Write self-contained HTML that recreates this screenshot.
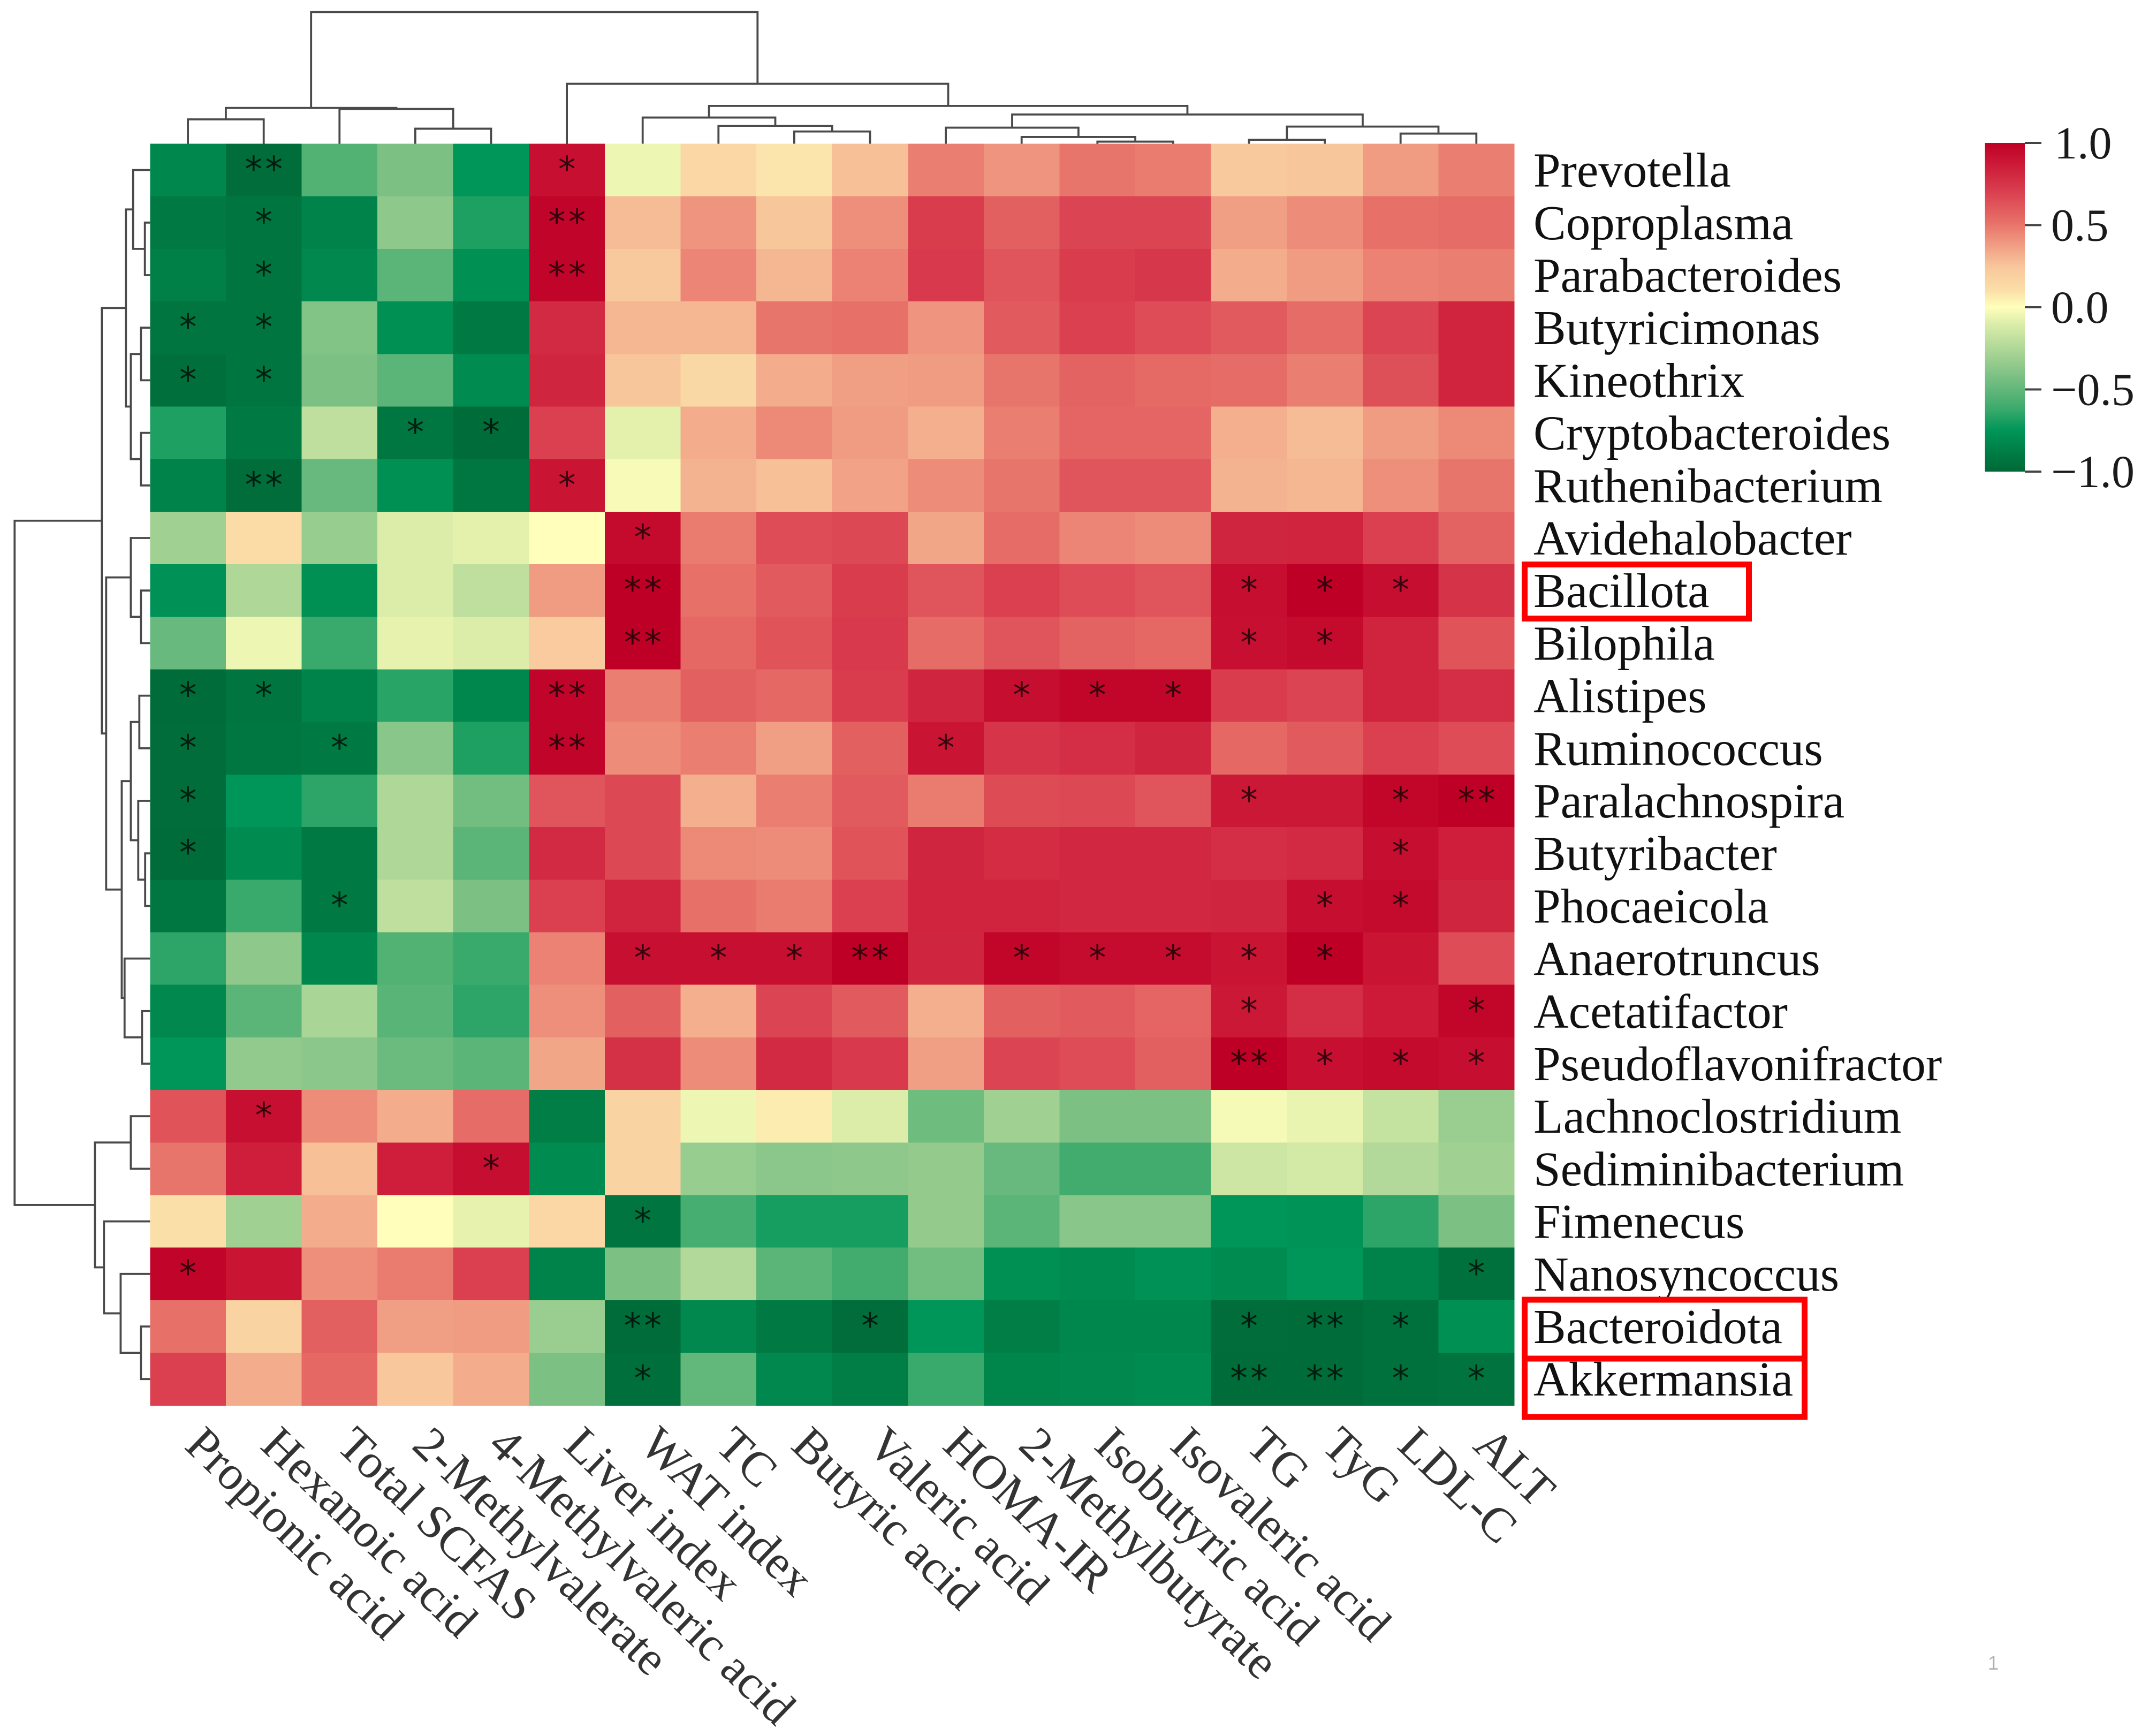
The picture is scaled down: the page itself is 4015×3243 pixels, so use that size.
<!DOCTYPE html>
<html lang="en">
<head>
<meta charset="utf-8">
<title>Genus-metabolite correlation heatmap</title>
<style>
html,body{margin:0;padding:0;background:#fff;}
svg{display:block;}
</style>
</head>
<body>
<svg id="chart" xmlns="http://www.w3.org/2000/svg" width="4015" height="3243" viewBox="0 0 4015 3243">
  <defs>
    <linearGradient id="cbar-grad" x1="0" y1="0" x2="0" y2="1"></linearGradient>
  </defs>
  <rect x="0" y="0" width="4015" height="3243" fill="#ffffff"></rect>
</svg>
<script>
const rowLabels = ["Prevotella","Coproplasma","Parabacteroides","Butyricimonas","Kineothrix","Cryptobacteroides","Ruthenibacterium","Avidehalobacter","Bacillota","Bilophila","Alistipes","Ruminococcus","Paralachnospira","Butyribacter","Phocaeicola","Anaerotruncus","Acetatifactor","Pseudoflavonifractor","Lachnoclostridium","Sediminibacterium","Fimenecus","Nanosyncoccus","Bacteroidota","Akkermansia"];
const colLabels = ["Propionic acid","Hexanoic acid","Total SCFAS","2-Methylvalerate","4-Methylvaleric acid","Liver index","WAT index","TC","Butyric acid","Valeric acid","HOMA-IR","2-Methylbutyrate","Isobutyric acid","Isovaleric acid","TG","TyG","LDL-C","ALT"];
const correlations = [
[-.83,-.97,-.55,-.42,-.75,.92,-.05,.15,.08,.27,.47,.4,.5,.48,.23,.25,.38,.47],
[-.9,-.93,-.85,-.36,-.68,.98,.28,.4,.25,.42,.72,.58,.68,.68,.37,.43,.52,.53],
[-.87,-.93,-.82,-.52,-.78,.98,.23,.45,.3,.46,.73,.62,.72,.74,.33,.38,.46,.47],
[-.93,-.93,-.4,-.78,-.9,.8,.3,.3,.5,.52,.4,.6,.7,.65,.6,.53,.68,.83],
[-.96,-.93,-.42,-.52,-.8,.82,.25,.14,.33,.37,.38,.5,.57,.54,.53,.47,.64,.83],
[-.68,-.9,-.2,-.92,-.98,.7,-.08,.33,.44,.38,.32,.47,.56,.56,.32,.28,.38,.44],
[-.85,-.97,-.48,-.78,-.92,.9,-.02,.31,.27,.36,.43,.5,.62,.62,.31,.3,.42,.5],
[-.3,.12,-.33,-.1,-.08,0,.95,.48,.65,.67,.35,.53,.45,.43,.82,.83,.7,.57],
[-.77,-.25,-.78,-.1,-.2,.38,1,.52,.6,.72,.62,.7,.65,.62,.93,1,.93,.76],
[-.48,-.05,-.62,-.07,-.1,.22,1,.55,.63,.73,.53,.62,.57,.55,.92,.95,.83,.63],
[-.98,-.93,-.85,-.66,-.83,.98,.47,.58,.55,.72,.82,.93,.97,.97,.72,.68,.83,.78],
[-.97,-.92,-.9,-.38,-.68,.98,.43,.47,.37,.58,.9,.75,.78,.82,.55,.6,.7,.65],
[-.97,-.75,-.65,-.25,-.45,.62,.67,.32,.47,.6,.48,.66,.67,.62,.88,.88,.97,1],
[-.98,-.8,-.9,-.25,-.52,.8,.67,.44,.43,.63,.82,.79,.81,.81,.78,.8,.93,.85],
[-.92,-.62,-.9,-.2,-.42,.7,.83,.52,.48,.7,.83,.83,.81,.81,.82,.93,.95,.82],
[-.65,-.36,-.83,-.55,-.62,.46,.92,.92,.92,1,.82,.97,.94,.94,.9,1,.9,.65],
[-.82,-.52,-.27,-.53,-.65,.42,.58,.32,.68,.6,.32,.58,.6,.56,.88,.78,.87,.97],
[-.75,-.35,-.37,-.47,-.52,.35,.77,.43,.8,.73,.37,.68,.65,.58,1,.92,.95,.93],
[.63,.92,.43,.33,.53,-.88,.17,-.05,.06,-.1,-.46,-.3,-.42,-.42,-.03,-.06,-.18,-.32],
[.5,.85,.27,.85,.93,-.8,.17,-.33,-.37,-.36,-.34,-.48,-.6,-.6,-.15,-.13,-.24,-.3],
[.1,-.3,.33,0,-.07,.15,-.93,-.58,-.7,-.7,-.34,-.52,-.38,-.38,-.75,-.76,-.65,-.42],
[.98,.9,.42,.48,.7,-.85,-.42,-.24,-.52,-.6,-.45,-.78,-.8,-.77,-.8,-.75,-.85,-.95],
[.52,.17,.58,.37,.38,-.32,-.98,-.82,-.9,-.97,-.75,-.88,-.83,-.83,-.97,-.98,-.95,-.78],
[.7,.33,.55,.24,.33,-.42,-.96,-.5,-.82,-.88,-.62,-.84,-.82,-.8,-.98,-.98,-.95,-.94]
];
const significance = [
".2...1............",
".1...2............",
".1...2............",
"11................",
"11................",
"...11.............",
".2...1............",
"......1...........",
"......2.......111.",
"......2.......11..",
"11...2.....111....",
"1.1..2....1.......",
"1.............1.12",
"1...............1.",
"..1............11.",
"......1112.11111..",
"..............1..1",
"..............2111",
".1................",
"....1.............",
"......1...........",
"1................1",
"......2..1....121.",
"......1.......2211"
];
const colTree = [[[0,1,18.5],[2,[3,4,11.4],26.4],27.2],[5,[[6,[7,[8,9,9.3],13.6],19.9],[[10,[11,[12,13,1.6],5.1],12.2],[[14,15,3],[16,17,7.7],13],22.2],28.7],45.5],100];
const rowTree = [[[[0,[1,2,3.8],12.5],[[3,4,6.7],[5,6,6.7],14.2],17.8],[[7,[8,9,6.7],14.2],[[[10,11,7.9],[12,[13,14,3.6],8.7],14.2],[15,[16,17,5.9],18.8],20.9],32.4],35.6],[[18,19,14.2],[20,[21,[22,23,6.7],21.7],34],40.7],100];
const colorbarTicks = [1,0.5,0,-0.5,-1];
const colorbarTickLabels = ["1.0","0.5","0.0","\u22120.5","\u22121.0"];
const highlightedRows = ["Bacillota","Bacteroidota","Akkermansia"];
const colorValues = [-1,-.9,-.75,-.62,-.42,-.25,-.1,0,.1,.25,.42,.5,.7,.87,1];
const colorHexes = ["#006837","#007a42","#009559","#3aaa6c","#7cc084","#afd898","#dcedaa","#ffffbb","#fbdfa8","#f8c69b","#ee8f7b","#e8756b","#da4050","#cc1a38","#bf0026"];

const NS = "http://www.w3.org/2000/svg";
const svg = document.getElementById("chart");
const plot = {left: 280.3, top: 268.5, cellW: 141.6, cellH: 98.2};
const bar = {left: 3708.5, right: 3783, top: 267, bottom: 881};

function xBand(i){ return plot.left + i * plot.cellW; }
function yBand(j){ return plot.top + j * plot.cellH; }
function xCenter(i){ return xBand(i) + plot.cellW / 2; }
function yCenter(j){ return yBand(j) + plot.cellH / 2; }
function colHeight(h){ return plot.top - h * 2.46; }
function rowHeight(h){ return plot.left - h * 2.53; }
function barY(v){ return bar.bottom - (v + 1) / 2 * (bar.bottom - bar.top); }

function hexRgb(h){ return [1,3,5].map(k => parseInt(h.slice(k,k+2),16)); }
function colorScale(v){
  const c = Math.max(-1, Math.min(1, v));
  let k = 0;
  while (k < colorValues.length - 2 && c > colorValues[k+1]) k++;
  const t = (c - colorValues[k]) / (colorValues[k+1] - colorValues[k]);
  const a = hexRgb(colorHexes[k]), b = hexRgb(colorHexes[k+1]);
  const m = a.map((x, n) => Math.round(x + (b[n] - x) * t));
  return "rgb(" + m.join(",") + ")";
}
function make(tag, attrs, parent){
  const el = document.createElementNS(NS, tag);
  for (const key in attrs) el.setAttribute(key, attrs[key]);
  (parent || svg).appendChild(el);
  return el;
}

/* heatmap cells */
const cellGroup = make("g", {"shape-rendering":"crispEdges"});


correlations.forEach((row, j) => row.forEach((v, i) => {
  const cell = make("rect", {x: xBand(i), y: yBand(j), width: plot.cellW + .6, height: plot.cellH + .6, fill: colorScale(v)}, cellGroup);
  
  
}));

/* significance stars */
const starGroup = make("g", {"font-family":'"DejaVu Sans", sans-serif', "font-size":"65", fill:"#000000", "fill-opacity":"0.72", "text-anchor":"middle"});


significance.forEach((line, j) => {
  for (let i = 0; i < line.length; i++) {
    if (line[i] === ".") continue;
    const count = Number(line[i]);
    for (let s = 0; s < count; s++) {
      const star = make("text", {x: xCenter(i) + (s - (count - 1) / 2) * 38, y: yCenter(j) + 21}, starGroup);
      star.textContent = "*";
      
      
    }
  }
});

/* dendrograms */
function drawColNode(node, group){
  if (typeof node === "number") return {pos: xCenter(node), y: plot.top};
  const a = drawColNode(node[0], group), b = drawColNode(node[1], group);
  const y = colHeight(node[2]);
  const link = make("path", {d: "M" + a.pos + " " + a.y + "V" + y + "H" + b.pos + "V" + b.y}, group);
  
  
  return {pos: (a.pos + b.pos) / 2, y: y};
}
function drawRowNode(node, group){
  if (typeof node === "number") return {pos: yCenter(node), x: plot.left};
  const a = drawRowNode(node[0], group), b = drawRowNode(node[1], group);
  const x = rowHeight(node[2]);
  const link = make("path", {d: "M" + a.x + " " + a.pos + "H" + x + "V" + b.pos + "H" + b.x}, group);
  
  
  return {pos: (a.pos + b.pos) / 2, x: x};
}
const colDendro = make("g", {fill:"none", stroke:"#4a4a4a", "stroke-width":"3.8"});


drawColNode(colTree, colDendro);
const rowDendro = make("g", {fill:"none", stroke:"#4a4a4a", "stroke-width":"3.8"});


drawRowNode(rowTree, rowDendro);

/* row labels */
const rowLabelGroup = make("g", {"font-family":'"Liberation Serif", serif', "font-size":"91", fill:"#111111"});


rowLabels.forEach((name, j) => {
  const t = make("text", {x: 2865, y: yCenter(j) + 31}, rowLabelGroup);
  t.textContent = name;
  
  
});

/* column labels */
const colLabelGroup = make("g", {"font-family":'"Liberation Serif", serif', "font-size":"90", fill:"#333333"});


colLabels.forEach((name, i) => {
  const x = xCenter(i) - 9, y = 2704;
  const t = make("text", {x: x, y: y, transform: "rotate(44 " + x + " " + y + ")"}, colLabelGroup);
  t.textContent = name;
  
  
});

/* highlight boxes */
const highlightGeometry = {Bacillota: [2848.5, 1054.5, 419, 101], Bacteroidota: [2848.5, 2428, 523, 110], Akkermansia: [2848.5, 2538, 523, 109]};
highlightedRows.forEach(name => {
  const g = highlightGeometry[name];
  const box = make("rect", {x: g[0], y: g[1], width: g[2], height: g[3], fill: "none", stroke: "#ff0000", "stroke-width": 11});
  
  
});

/* colorbar */
const grad = document.getElementById("cbar-grad");
for (let k = colorValues.length - 1; k >= 0; k--) {
  make("stop", {offset: (1 - colorValues[k]) / 2, "stop-color": colorHexes[k]}, grad);
}
const colorbar = make("g", {});


const barRect = make("rect", {x: bar.left, y: barY(1), width: bar.right - bar.left, height: barY(-1) - barY(1), fill: "url(#cbar-grad)"}, colorbar);


colorbarTicks.forEach((v, k) => {
  const tick = make("line", {x1: bar.right, x2: bar.right + 31, y1: barY(v), y2: barY(v), stroke: "#444444", "stroke-width": 4}, colorbar);
  
  
  const label = make("text", {x: 3832 + (v === 1 ? 6 : 0), y: barY(v) + 29, "font-family": '"Liberation Serif", serif', "font-size": 86, fill: "#1a1a1a"}, colorbar);
  label.textContent = colorbarTickLabels[k];
  
  
});

/* page number */
const pageNumber = make("text", {x: 3714, y: 3119, "font-family": '"Liberation Sans", sans-serif', "font-size": 36, fill: "#b0b0b0"});
pageNumber.textContent = "1";


</script>
</body>
</html>
